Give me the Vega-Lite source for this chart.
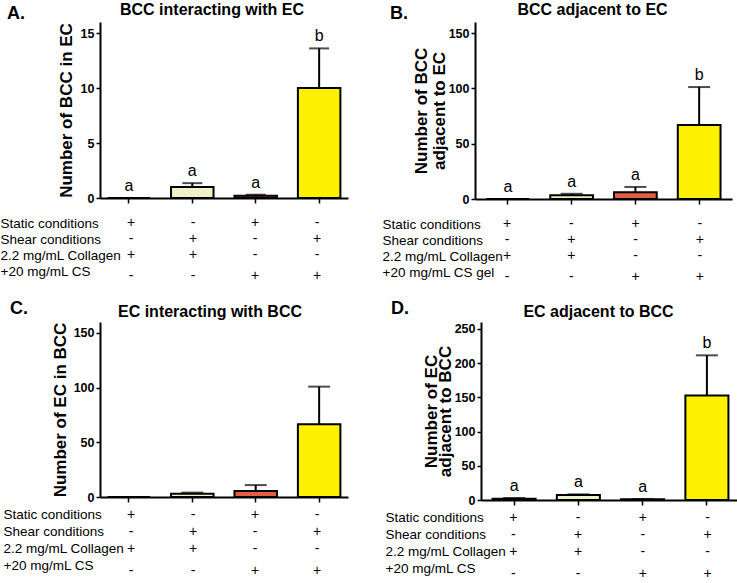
{
  "$schema": "https://vega.github.io/schema/vega-lite/v6.json",
  "padding": {"left": 0, "top": 2, "right": 0, "bottom": 0},
  "background": "white",
  "config": {
    "font": "Liberation Sans",
    "view": {"stroke": null},
    "axis": {"domainColor": "black", "domainWidth": 2, "tickColor": "black", "tickWidth": 1.5, "labelColor": "black", "titleColor": "black", "grid": false, "labelOverlap": false},
    "title": {"color": "black", "fontWeight": "bold"}
  },
  "datasets": {
    "A": [
      {"c": "1", "mean": 0, "upper": 0, "letter": "a", "g": "1"},
      {"c": "2", "mean": 1.0, "upper": 1.35, "letter": "a", "g": "2"},
      {"c": "3", "mean": 0.2, "upper": 0.3, "letter": "a", "g": "3"},
      {"c": "4", "mean": 10.0, "upper": 13.6, "letter": "b", "g": "4"}
    ],
    "B": [
      {"c": "1", "mean": 0, "upper": 0, "letter": "a", "g": "1"},
      {"c": "2", "mean": 3.3, "upper": 4.7, "letter": "a", "g": "2"},
      {"c": "3", "mean": 6.2, "upper": 10.9, "letter": "a", "g": "3"},
      {"c": "4", "mean": 66.8, "upper": 101.2, "letter": "b", "g": "4"}
    ],
    "C": [
      {"c": "1", "mean": 0, "upper": 0, "letter": "", "g": "1"},
      {"c": "2", "mean": 3.0, "upper": 4.0, "letter": "", "g": "2"},
      {"c": "3", "mean": 5.6, "upper": 10.9, "letter": "", "g": "3"},
      {"c": "4", "mean": 66.6, "upper": 100.9, "letter": "", "g": "4"}
    ],
    "D": [
      {"c": "1", "mean": 2.0, "upper": 2.9, "letter": "a", "g": "1"},
      {"c": "2", "mean": 7.3, "upper": 8.2, "letter": "a", "g": "2"},
      {"c": "3", "mean": 1.0, "upper": 1.2, "letter": "a", "g": "3"},
      {"c": "4", "mean": 152.5, "upper": 211.3, "letter": "b", "g": "4"}
    ],
    "T": [
      {"r": 1, "row": "Static conditions", "c": "1", "s": "+"},
      {"r": 1, "row": "Static conditions", "c": "2", "s": "-"},
      {"r": 1, "row": "Static conditions", "c": "3", "s": "+"},
      {"r": 1, "row": "Static conditions", "c": "4", "s": "-"},
      {"r": 2, "row": "Shear conditions", "c": "1", "s": "-"},
      {"r": 2, "row": "Shear conditions", "c": "2", "s": "+"},
      {"r": 2, "row": "Shear conditions", "c": "3", "s": "-"},
      {"r": 2, "row": "Shear conditions", "c": "4", "s": "+"},
      {"r": 3, "row": "2.2 mg/mL Collagen", "c": "1", "s": "+"},
      {"r": 3, "row": "2.2 mg/mL Collagen", "c": "2", "s": "+"},
      {"r": 3, "row": "2.2 mg/mL Collagen", "c": "3", "s": "-"},
      {"r": 3, "row": "2.2 mg/mL Collagen", "c": "4", "s": "-"},
      {"r": 4, "row": "+20 mg/mL CS", "c": "1", "s": "-"},
      {"r": 4, "row": "+20 mg/mL CS", "c": "2", "s": "-"},
      {"r": 4, "row": "+20 mg/mL CS", "c": "3", "s": "+"},
      {"r": 4, "row": "+20 mg/mL CS", "c": "4", "s": "+"}
    ]
  },
  "spacing": 16,
  "vconcat": [
    {
      "spacing": 34,
      "hconcat": [
        {
          "title": {"text": "A.", "anchor": "start", "frame": "bounds", "fontSize": 18, "dx": 7, "dy": 25},
          "spacing": 10,
          "resolve": {"scale": {"x": "independent"}, "axis": {"x": "independent"}},
          "vconcat": [
            {
              "width": 248, "height": 176,
              "data": {"name": "A"},
              "title": {"text": "BCC interacting with EC", "fontSize": 16, "dx": -12, "offset": 4},
              "encoding": {"x": {"field": "c", "type": "nominal", "scale": {"paddingInner": 0.33, "paddingOuter": 0.12}, "axis": {"labels": false, "title": null, "tickSize": 5}}},
              "layer": [
                {"mark": {"type": "bar", "stroke": "black", "strokeWidth": 2},
                 "encoding": {"y": {"field": "mean", "type": "quantitative", "scale": {"domain": [0, 15]}, "axis": {"title": "Number of BCC in EC", "titleFontSize": 17, "titleFontWeight": "bold", "titlePadding": 5, "values": [0, 5, 10, 15], "labelFontSize": 12.5, "labelFontWeight": "bold", "tickSize": 4, "labelPadding": 2}},
                   "color": {"field": "g", "type": "nominal", "scale": {"domain": ["1", "2", "3", "4"], "range": ["#ffffff", "#f1f1c9", "#e2603f", "#fff200"]}, "legend": null}}},
                {"mark": {"type": "rule", "strokeWidth": 2, "color": "black"}, "encoding": {"y": {"field": "mean", "type": "quantitative", "axis": {"values": [0, 5, 10, 15]}}, "y2": {"field": "upper"}}},
                {"mark": {"type": "tick", "thickness": 2, "size": 20, "color": "black"}, "encoding": {"y": {"field": "upper", "type": "quantitative", "axis": {"values": [0, 5, 10, 15]}}}},
                {"mark": {"type": "text", "baseline": "bottom", "dy": -4, "fontSize": 16, "color": "black"}, "encoding": {"y": {"field": "upper", "type": "quantitative", "axis": {"values": [0, 5, 10, 15]}}, "text": {"field": "letter"}}}
              ]
            },
            {
              "width": 248, "height": 64,
              "data": {"name": "T"},
              "encoding": {
                "x": {"field": "c", "type": "nominal", "scale": {"paddingInner": 0.33, "paddingOuter": 0.12}, "axis": null},
                "y": {"field": "row", "type": "nominal", "sort": ["Static conditions", "Shear conditions", "2.2 mg/mL Collagen", "+20 mg/mL CS"], "scale": {"type": "point", "padding": 0.5}, "axis": {"title": null, "domain": false, "ticks": false, "labelAlign": "left", "labelPadding": 100, "labelFontSize": 13.5, "labelBaseline": "middle"}},
                "text": {"field": "s"}
              },
              "layer": [
                {"transform": [{"filter": "datum.r < 4"}], "mark": {"type": "text", "fontSize": 14, "color": "black"}},
                {"transform": [{"filter": "datum.r == 4"}], "mark": {"type": "text", "fontSize": 14, "color": "black", "dy": 5}}
              ]
            }
          ]
        },
        {
          "title": {"text": "B.", "anchor": "start", "frame": "bounds", "fontSize": 18, "dx": 8, "dy": 25},
          "spacing": 10,
          "resolve": {"scale": {"x": "independent"}, "axis": {"x": "independent"}},
          "vconcat": [
            {
              "width": 257, "height": 177,
              "data": {"name": "B"},
              "title": {"text": "BCC adjacent to EC", "fontSize": 16, "dx": -11, "offset": 4},
              "encoding": {"x": {"field": "c", "type": "nominal", "scale": {"paddingInner": 0.33, "paddingOuter": 0.18}, "axis": {"labels": false, "title": null, "tickSize": 5}}},
              "layer": [
                {"mark": {"type": "bar", "stroke": "black", "strokeWidth": 2},
                 "encoding": {"y": {"field": "mean", "type": "quantitative", "scale": {"domain": [0, 150]}, "axis": {"title": ["Number of  BCC", "adjacent to EC"], "titleFontSize": 17, "titleFontWeight": "bold", "titlePadding": 0, "titleLineHeight": 18, "values": [0, 50, 100, 150], "labelFontSize": 12.5, "labelFontWeight": "bold", "tickSize": 4, "labelPadding": 2}},
                   "color": {"field": "g", "type": "nominal", "scale": {"domain": ["1", "2", "3", "4"], "range": ["#ffffff", "#f1f1d6", "#e2603f", "#fff200"]}, "legend": null}}},
                {"mark": {"type": "rule", "strokeWidth": 2, "color": "black"}, "encoding": {"y": {"field": "mean", "type": "quantitative", "axis": {"values": [0, 50, 100, 150]}}, "y2": {"field": "upper"}}},
                {"mark": {"type": "tick", "thickness": 2, "size": 22, "color": "black"}, "encoding": {"y": {"field": "upper", "type": "quantitative", "axis": {"values": [0, 50, 100, 150]}}}},
                {"mark": {"type": "text", "baseline": "bottom", "dy": -4, "fontSize": 16, "color": "black"}, "encoding": {"y": {"field": "upper", "type": "quantitative", "axis": {"values": [0, 50, 100, 150]}}, "text": {"field": "letter"}}}
              ]
            },
            {
              "width": 257, "height": 64,
              "data": {"name": "T"},
              "encoding": {
                "x": {"field": "c", "type": "nominal", "scale": {"paddingInner": 0.33, "paddingOuter": 0.18}, "axis": null},
                "y": {"field": "row", "type": "nominal", "sort": ["Static conditions", "Shear conditions", "2.2 mg/mL Collagen", "+20 mg/mL CS"], "scale": {"type": "point", "padding": 0.5}, "axis": {"title": null, "domain": false, "ticks": false, "labelAlign": "left", "labelPadding": 93, "labelFontSize": 13.5, "labelBaseline": "middle", "labelExpr": "datum.label == '+20 mg/mL CS' ? '+20 mg/mL CS gel' : datum.label"}},
                "text": {"field": "s"}
              },
              "layer": [
                {"transform": [{"filter": "datum.r < 4"}], "mark": {"type": "text", "fontSize": 14, "color": "black"}},
                {"transform": [{"filter": "datum.r == 4"}], "mark": {"type": "text", "fontSize": 14, "color": "black", "dy": 5}}
              ]
            }
          ]
        }
      ]
    },
    {
      "spacing": 37,
      "hconcat": [
        {
          "title": {"text": "C.", "anchor": "start", "frame": "bounds", "fontSize": 18, "dx": 7, "dy": 18},
          "spacing": 2,
          "resolve": {"scale": {"x": "independent"}, "axis": {"x": "independent"}},
          "vconcat": [
            {
              "width": 248, "height": 175,
              "data": {"name": "C"},
              "title": {"text": "EC interacting with BCC", "fontSize": 16, "dx": -14, "offset": 2},
              "encoding": {"x": {"field": "c", "type": "nominal", "scale": {"paddingInner": 0.33, "paddingOuter": 0.12}, "axis": {"labels": false, "title": null, "tickSize": 5}}},
              "layer": [
                {"mark": {"type": "bar", "stroke": "black", "strokeWidth": 2},
                 "encoding": {"y": {"field": "mean", "type": "quantitative", "scale": {"domain": [0, 150]}, "axis": {"title": "Number of EC in BCC", "titleFontSize": 17, "titleFontWeight": "bold", "titlePadding": 4, "values": [0, 50, 100, 150], "labelFontSize": 12.5, "labelFontWeight": "bold", "tickSize": 4, "labelPadding": 2}},
                   "color": {"field": "g", "type": "nominal", "scale": {"domain": ["1", "2", "3", "4"], "range": ["#ffffff", "#b9bda8", "#e2603f", "#fff200"]}, "legend": null}}},
                {"mark": {"type": "rule", "strokeWidth": 2, "color": "black"}, "encoding": {"y": {"field": "mean", "type": "quantitative", "axis": {"values": [0, 50, 100, 150]}}, "y2": {"field": "upper"}}},
                {"mark": {"type": "tick", "thickness": 2, "size": 22, "color": "black"}, "encoding": {"y": {"field": "upper", "type": "quantitative", "axis": {"values": [0, 50, 100, 150]}}}}
              ]
            },
            {
              "width": 248, "height": 68,
              "data": {"name": "T"},
              "encoding": {
                "x": {"field": "c", "type": "nominal", "scale": {"paddingInner": 0.33, "paddingOuter": 0.12}, "axis": null},
                "y": {"field": "row", "type": "nominal", "sort": ["Static conditions", "Shear conditions", "2.2 mg/mL Collagen", "+20 mg/mL CS"], "scale": {"type": "point", "padding": 0.5}, "axis": {"title": null, "domain": false, "ticks": false, "labelAlign": "left", "labelPadding": 97, "labelFontSize": 13.5, "labelBaseline": "middle"}},
                "text": {"field": "s"}
              },
              "layer": [
                {"transform": [{"filter": "datum.r < 4"}], "mark": {"type": "text", "fontSize": 14, "color": "black"}},
                {"transform": [{"filter": "datum.r == 4"}], "mark": {"type": "text", "fontSize": 14, "color": "black", "dy": 5}}
              ]
            }
          ]
        },
        {
          "title": {"text": "D.", "anchor": "start", "frame": "bounds", "fontSize": 18, "dx": 6, "dy": 18},
          "spacing": 2,
          "resolve": {"scale": {"x": "independent"}, "axis": {"x": "independent"}},
          "vconcat": [
            {
              "width": 259, "height": 178,
              "data": {"name": "D"},
              "title": {"text": "EC adjacent to BCC", "fontSize": 16, "dx": -12, "offset": 2},
              "encoding": {"x": {"field": "c", "type": "nominal", "scale": {"paddingInner": 0.33, "paddingOuter": 0.18}, "axis": {"labels": false, "title": null, "tickSize": 5}}},
              "layer": [
                {"mark": {"type": "bar", "stroke": "black", "strokeWidth": 2},
                 "encoding": {"y": {"field": "mean", "type": "quantitative", "scale": {"domain": [0, 250]}, "axis": {"title": ["Number of EC", "adjacent to BCC"], "titleFontSize": 17, "titleFontWeight": "bold", "titlePadding": 0, "titleLineHeight": 14, "values": [0, 50, 100, 150, 200, 250], "labelFontSize": 12.5, "labelFontWeight": "bold", "tickSize": 4, "labelPadding": 2}},
                   "color": {"field": "g", "type": "nominal", "scale": {"domain": ["1", "2", "3", "4"], "range": ["#ffffff", "#f1f1c9", "#e2603f", "#fff200"]}, "legend": null}}},
                {"mark": {"type": "rule", "strokeWidth": 2, "color": "black"}, "encoding": {"y": {"field": "mean", "type": "quantitative", "axis": {"values": [0, 50, 100, 150, 200, 250]}}, "y2": {"field": "upper"}}},
                {"mark": {"type": "tick", "thickness": 2, "size": 22, "color": "black"}, "encoding": {"y": {"field": "upper", "type": "quantitative", "axis": {"values": [0, 50, 100, 150, 200, 250]}}}},
                {"mark": {"type": "text", "baseline": "bottom", "dy": -4, "fontSize": 16, "color": "black"}, "encoding": {"y": {"field": "upper", "type": "quantitative", "axis": {"values": [0, 50, 100, 150, 200, 250]}}, "text": {"field": "letter"}}}
              ]
            },
            {
              "width": 259, "height": 68,
              "data": {"name": "T"},
              "encoding": {
                "x": {"field": "c", "type": "nominal", "scale": {"paddingInner": 0.33, "paddingOuter": 0.18}, "axis": null},
                "y": {"field": "row", "type": "nominal", "sort": ["Static conditions", "Shear conditions", "2.2 mg/mL Collagen", "+20 mg/mL CS"], "scale": {"type": "point", "padding": 0.5}, "axis": {"title": null, "domain": false, "ticks": false, "labelAlign": "left", "labelPadding": 96, "labelFontSize": 13.5, "labelBaseline": "middle"}},
                "text": {"field": "s"}
              },
              "layer": [
                {"transform": [{"filter": "datum.r < 4"}], "mark": {"type": "text", "fontSize": 14, "color": "black"}},
                {"transform": [{"filter": "datum.r == 4"}], "mark": {"type": "text", "fontSize": 14, "color": "black", "dy": 5}}
              ]
            }
          ]
        }
      ]
    }
  ]
}
